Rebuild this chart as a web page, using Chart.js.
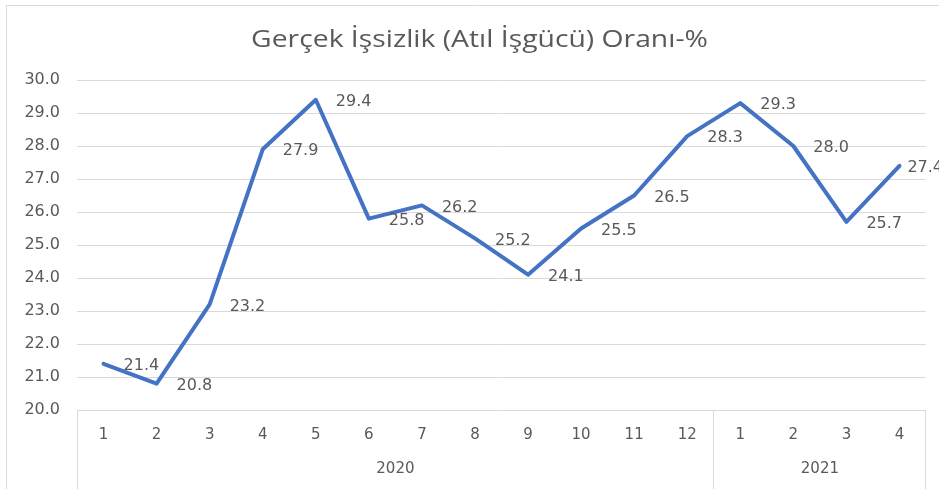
<!DOCTYPE html>
<html>
<head>
<meta charset="utf-8">
<script src="https://cdn.jsdelivr.net/npm/chart.js@4"></script>
<style>
  html, body { margin: 0; padding: 0; background: #fff; }
  #wrap { width: 939px; height: 489px; position: relative; }
</style>
</head>
<body>
<div id="wrap"><canvas id="c" width="939" height="489"></canvas></div>
<script>
const titleText = 'Gerçek İşsizlik (Atıl İşgücü) Oranı-%';
const categories = ['1','2','3','4','5','6','7','8','9','10','11','12','1','2','3','4'];
const values = [21.4, 20.8, 23.2, 27.9, 29.4, 25.8, 26.2, 25.2, 24.1, 25.5, 26.5, 28.3, 29.3, 28.0, 25.7, 27.4];
const years = ['2020', '2021'];
const yearCounts = [12, 4];
const yMin = 20, yMax = 30, yStep = 1;

const textColor = '#595959';
const gridColor = '#d9d9d9';
const tickFont = { family: 'DejaVu Sans', size: 15 };

const extras = {
  id: 'extras',
  beforeDraw(chart) {
    const ctx = chart.ctx;
    ctx.save();
    ctx.strokeStyle = gridColor;
    ctx.lineWidth = 1;
    ctx.beginPath();
    ctx.moveTo(6.5, chart.height);
    ctx.lineTo(6.5, 5.5);
    ctx.lineTo(chart.width, 5.5);
    ctx.stroke();
    // title (horizontally widened like the reference)
    ctx.fillStyle = textColor;
    ctx.font = '24px "Open Sans"';
    ctx.textAlign = 'center';
    ctx.textBaseline = 'alphabetic';
    const sx = 1.18;
    ctx.translate(chart.width / 2 + 10, 47);
    ctx.scale(sx, 1);
    ctx.fillText(titleText, 0, 0);
    ctx.restore();
  },
  afterDraw(chart) {
    const ctx = chart.ctx;
    const xs = chart.scales.x;
    const area = chart.chartArea;
    ctx.save();
    ctx.strokeStyle = gridColor;
    ctx.lineWidth = 1;
    const half = (xs.getPixelForValue(1) - xs.getPixelForValue(0)) / 2;
    let start = 0;
    const bounds = [Math.round(area.left) + 0.5];
    years.forEach((y, i) => {
      const end = start + yearCounts[i] - 1;
      const left = xs.getPixelForValue(start) - half;
      const right = xs.getPixelForValue(end) + half;
      bounds.push(Math.round(right) - 0.5);
      ctx.fillStyle = textColor;
      ctx.font = '15px "DejaVu Sans"';
      ctx.textAlign = 'center';
      ctx.textBaseline = 'middle';
      ctx.fillText(y, (left + right) / 2, 469);
      start = end + 1;
    });
    ctx.beginPath();
    bounds.forEach(b => { ctx.moveTo(b, area.bottom); ctx.lineTo(b, chart.height); });
    ctx.stroke();
    // data labels, right of each point; kept mostly inside the canvas
    const meta = chart.getDatasetMeta(0);
    ctx.fillStyle = textColor;
    ctx.font = '16px "DejaVu Sans"';
    ctx.textAlign = 'left';
    ctx.textBaseline = 'middle';
    meta.data.forEach((pt, i) => {
      const txt = values[i].toFixed(1);
      const w = ctx.measureText(txt).width;
      const x = Math.min(pt.x + 20, chart.width - w + 4);
      ctx.fillText(txt, x, pt.y + 2);
    });
    ctx.restore();
  }
};

new Chart(document.getElementById('c'), {
  type: 'line',
  data: {
    labels: categories,
    datasets: [{
      data: values,
      borderColor: '#4472C4',
      borderWidth: 4,
      pointRadius: 0,
      pointHoverRadius: 0,
      tension: 0,
      fill: false,
      borderJoinStyle: 'round',
      borderCapStyle: 'round'
    }]
  },
  options: {
    responsive: false,
    animation: false,
    layout: { padding: { left: 0, right: 13, top: 80, bottom: 0 } },
    plugins: {
      legend: { display: false },
      tooltip: { enabled: false },
      title: { display: false }
    },
    scales: {
      x: {
        offset: true,
        grid: { display: false, drawTicks: false },
        border: { display: false },
        ticks: { color: textColor, font: tickFont, padding: 16, maxRotation: 0, autoSkip: false },
        afterFit(s) { s.height = 79; }
      },
      y: {
        min: yMin, max: yMax,
        grid: { color: gridColor, drawTicks: false, lineWidth: 1 },
        border: { display: false },
        ticks: {
          stepSize: yStep,
          color: textColor,
          font: { family: 'DejaVu Sans', size: 16 },
          padding: 17,
          callback: v => Number(v).toFixed(1)
        },
        afterFit(s) { s.width = 77; }
      }
    }
  },
  plugins: [extras]
});
</script>
</body>
</html>
